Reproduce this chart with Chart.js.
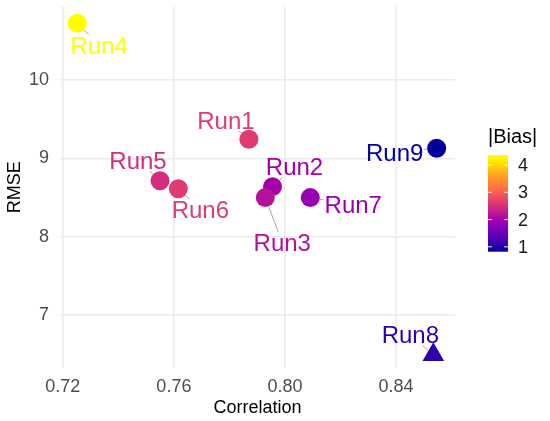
<!DOCTYPE html>
<html>
<head>
<meta charset="utf-8">
<script src="https://cdn.jsdelivr.net/npm/chart.js@4.4.1/dist/chart.umd.min.js"></script>
<style>
html, body { margin: 0; padding: 0; background: #fff; }
#wrap { width: 550px; height: 421px; }
</style>
</head>
<body>
<div id="wrap"><canvas id="myChart"></canvas></div>
<script>
// data
var runs        = ['Run1', 'Run2', 'Run3', 'Run4', 'Run5', 'Run6', 'Run7', 'Run8', 'Run9'];
var correlation = [0.787, 0.7955, 0.7929, 0.7252, 0.755, 0.7616, 0.8091, 0.8534, 0.8546];
var rmse        = [9.245, 8.64, 8.50, 10.73, 8.716, 8.614, 8.50, 6.49, 9.13];
var bias        = [2.62, 1.99, 2.17, 4.37, 2.47, 2.64, 1.885, 1.07, 0.82];
var xTicks      = [0.72, 0.76, 0.80, 0.84];
var yTicks      = [7, 8, 9, 10];
var biasTicks   = [1, 2, 3, 4];

// where ggrepel put each label, relative to its point (px)
var labelOffset = {
  Run1: [-23, -19], Run2: [22, -20], Run3: [17, 45],
  Run4: [22, 22],   Run5: [-22, -20], Run6: [22, 21],
  Run7: [43, 7],    Run8: [-23, -20], Run9: [-42, 4]
};

var FONT = '"Liberation Sans", Arial, sans-serif';

// viridis "plasma", a little more saturated as in the picture
var plasmaStops = ['#0d0887', '#41049d', '#6a00a8', '#8f0da4', '#b12a90', '#cc4778',
                   '#e16462', '#f2844b', '#fca636', '#fcce25', '#f0f921'];
function hex2rgb(h) {
  return [parseInt(h.substr(1, 2), 16), parseInt(h.substr(3, 2), 16), parseInt(h.substr(5, 2), 16)];
}
function plasma(t) {
  t = Math.max(0, Math.min(1, t));
  var p = t * (plasmaStops.length - 1);
  var i = Math.min(Math.floor(p), plasmaStops.length - 2);
  var f = p - i;
  var a = hex2rgb(plasmaStops[i]), b = hex2rgb(plasmaStops[i + 1]);
  var c = [0, 1, 2].map(function (k) { return a[k] + (b[k] - a[k]) * f; });
  var m = (c[0] + c[1] + c[2]) / 3;
  c = c.map(function (v) { return Math.round(Math.max(0, Math.min(255, m + (v - m) * 1.25))); });
  return 'rgb(' + c.join(',') + ')';
}
var bMin = Math.min.apply(null, bias), bMax = Math.max.apply(null, bias);
function biasColor(v) { return plasma((v - bMin) / (bMax - bMin)); }

var colors = bias.map(biasColor);
var points = runs.map(function (r, i) { return { x: correlation[i], y: rmse[i] }; });

var repelLabels = {
  id: 'repelLabels',
  afterDatasetsDraw: function (chart) {
    var ctx = chart.ctx;
    var meta = chart.getDatasetMeta(0);
    ctx.save();
    ctx.font = '24px ' + FONT;
    ctx.textAlign = 'center';
    ctx.textBaseline = 'alphabetic';
    var cap = 24 * 0.716;
    meta.data.forEach(function (pt, i) {
      var off = labelOffset[runs[i]];
      var cx = pt.x + off[0], cy = pt.y + off[1];
      var hw = ctx.measureText(runs[i]).width / 2 + 1, hh = cap / 2 + 2;
      // segment from point edge toward label centre, stopped where it enters the label box
      var dx = cx - pt.x, dy = cy - pt.y;
      var t = Math.max(Math.abs(dx) > 0 ? (Math.abs(dx) - hw) / Math.abs(dx) : 0,
                       Math.abs(dy) > 0 ? (Math.abs(dy) - hh) / Math.abs(dy) : 0);
      t = Math.max(t, 0);
      var ex = pt.x + dx * t, ey = pt.y + dy * t;
      var len = Math.sqrt((ex - pt.x) * (ex - pt.x) + (ey - pt.y) * (ey - pt.y));
      var r = runs[i] === 'Run8' ? 7 : 9.5;
      if (len > r + 2) {
        ctx.strokeStyle = '#8c8c8c';
        ctx.lineWidth = 0.8;
        ctx.beginPath();
        ctx.moveTo(pt.x + (ex - pt.x) * r / len, pt.y + (ey - pt.y) * r / len);
        ctx.lineTo(ex, ey);
        ctx.stroke();
      }
      ctx.fillStyle = colors[i];
      ctx.fillText(runs[i], cx, cy + cap / 2);
    });
    ctx.restore();
  }
};

var colorBar = {
  id: 'colorBar',
  afterDraw: function (chart) {
    var ctx = chart.ctx;
    var x0 = 488, w = 20, top = 155, bot = 251.7;
    function yOf(v) { return bot - (v - bMin) / (bMax - bMin) * (bot - top); }
    ctx.save();
    var g = ctx.createLinearGradient(0, bot, 0, top);
    for (var k = 0; k <= 20; k++) g.addColorStop(k / 20, plasma(k / 20));
    ctx.fillStyle = g;
    ctx.fillRect(x0, top, w, bot - top);
    ctx.strokeStyle = 'rgba(255,255,255,0.9)';
    ctx.lineWidth = 1;
    ctx.fillStyle = '#1a1a1a';
    ctx.font = '18px ' + FONT;
    ctx.textAlign = 'left';
    ctx.textBaseline = 'middle';
    biasTicks.forEach(function (v) {
      var y = yOf(v);
      ctx.beginPath();
      ctx.moveTo(x0, y); ctx.lineTo(x0 + 4, y);
      ctx.moveTo(x0 + w - 4, y); ctx.lineTo(x0 + w, y);
      ctx.stroke();
      ctx.fillText(String(v), 518, y + 1);
    });
    ctx.font = '20px ' + FONT;
    ctx.fillStyle = '#000';
    ctx.fillText('|Bias|', 488, 137);
    ctx.restore();
  }
};

var ctx = document.getElementById('myChart');
var myChart = new Chart(ctx, {
  type: 'scatter',
  data: {
    datasets: [{
      data: points,
      backgroundColor: colors,
      borderWidth: 0,
      pointStyle: runs.map(function (r) { return r === 'Run8' ? 'triangle' : 'circle'; }),
      pointRadius: runs.map(function (r) { return r === 'Run8' ? 12.5 : 9.5; })
    }]
  },
  options: {
    responsive: true,
    maintainAspectRatio: false,
    animation: false,
    layout: { autoPadding: false, padding: { top: 6.7, right: 95, left: 0, bottom: 0 } },
    plugins: {
      legend: { display: false },
      tooltip: { enabled: false }
    },
    scales: {
      x: {
        type: 'linear',
        min: 0.719,
        max: 0.8612,
        afterBuildTicks: function (s) { s.ticks = xTicks.map(function (v) { return { value: v }; }); },
        afterFit: function (s) { s.height = 53.3; s.paddingLeft = 0; s.paddingRight = 0; },
        border: { display: false },
        grid: { color: '#ebebeb', lineWidth: 1.6, drawTicks: false },
        ticks: {
          padding: 9,
          color: '#4d4d4d',
          font: { family: FONT, size: 18 },
          callback: function (v) { return v.toFixed(2); }
        },
        title: {
          display: true,
          text: 'Correlation',
          color: '#000',
          font: { family: FONT, size: 18 },
          padding: { top: 0, bottom: 2 }
        }
      },
      y: {
        type: 'linear',
        min: 6.326,
        max: 10.94,
        afterBuildTicks: function (s) { s.ticks = yTicks.map(function (v) { return { value: v }; }); },
        afterFit: function (s) { s.width = 60; s.paddingTop = 0; s.paddingBottom = 0; },
        border: { display: false },
        grid: { color: '#ebebeb', lineWidth: 1.6, drawTicks: false },
        ticks: {
          padding: 11,
          color: '#4d4d4d',
          font: { family: FONT, size: 18 }
        },
        title: {
          display: true,
          text: 'RMSE',
          color: '#000',
          font: { family: FONT, size: 18 },
          padding: { top: 4, bottom: 0 }
        }
      }
    }
  },
  plugins: [repelLabels, colorBar]
});
</script>
</body>
</html>
